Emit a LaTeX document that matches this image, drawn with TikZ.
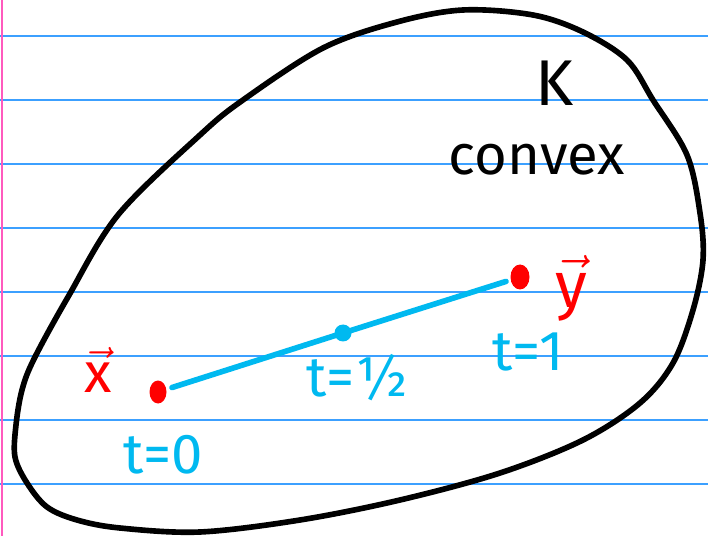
\documentclass[tikz,border=0pt]{standalone}
\usepackage{fix-cm}
\usepackage{fontspec}
\setmainfont{Fira Sans}
\usetikzlibrary{shapes.geometric}
\definecolor{ruleblue}{RGB}{60,160,255}
\definecolor{marginpink}{RGB}{255,90,190}
\definecolor{inkblue}{RGB}{0,185,240}
\definecolor{inkred}{RGB}{255,0,0}
\tikzset{
  ink/.style={line width=4pt, line cap=round, line join=round},
  ruling/.style={ruleblue, line width=1pt},
  handtext/.style={font=\fontsize{40}{40}\selectfont, inner sep=0pt},
  reddot/.style={ellipse, fill=inkred, inner sep=0pt},
}
\begin{document}
\begin{tikzpicture}[x=0.025cm, y=-0.025cm]
    \useasboundingbox (0,0) rectangle (708,536);

    % lined paper
    \fill[white] (0,0) rectangle (708,536);
    \foreach \ry in {36,100,...,484}
        \draw[ruling] (0,\ry) -- (708,\ry);
    \draw[marginpink, line width=1.8pt] (2,0) -- (2,536);

    % the convex set K
    \draw[ink] plot[smooth cycle, tension=0.55] coordinates {
        (463,10) (533,15) (583,32) (627,60) (653,100) (687,155)
        (700,213) (703,260) (693,310) (673,363) (640,403) (583,440)
        (500,473) (400,500) (300,520) (200,532) (120,528) (77,520)
        (47,507) (27,483) (15,457) (16,425) (22,390) (34,359)
        (68,297) (118,215) (200,135) (243,100) (323,48) (397,22)};
    \node[handtext] (K) at (555,83) {\fontsize{46}{46}\selectfont K};
    \node[handtext] (convex) at (537,160) {convex};

    % the segment from x to y
    \node[reddot, minimum width=17*0.025cm, minimum height=23*0.025cm,
        outer sep=6*0.025cm] (x) at (158,392) {};
    \node[reddot, minimum width=19*0.025cm, minimum height=25*0.025cm,
        outer sep=5*0.025cm] (y) at (520,277) {};
    \node[circle, fill=inkblue, minimum size=17*0.025cm, inner sep=0pt]
        (m) at (343,333) {};
    \draw[ink, inkblue] (x) -- (m.center) -- (y);

    % labels
    \node[handtext, inkred] (xlab) at (98,370) {$\vec{\mbox{x}}$};
    \node[handtext, inkred] (ylab) at (571,288)
        {\fontsize{46}{46}\selectfont$\vec{\mbox{y}}$};
    \node[handtext, inkblue] (t0) at (163,455) {t=0};
    \node[handtext, inkblue] (thalf) at (357,378) {t=½};
    \node[handtext, inkblue] (t1) at (528,352) {t=1};
\end{tikzpicture}
\end{document}
